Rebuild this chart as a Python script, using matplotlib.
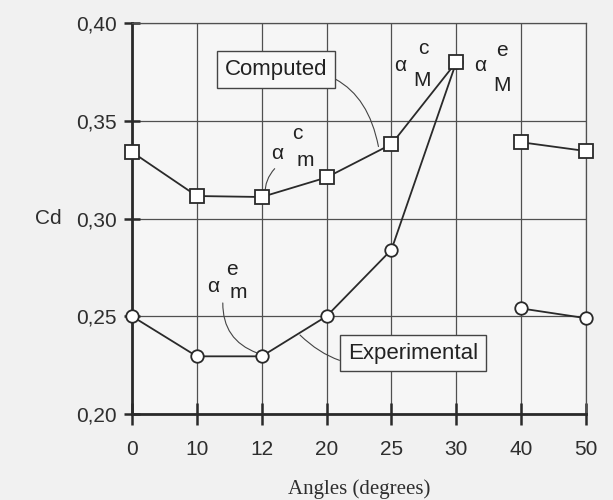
import matplotlib.pyplot as plt
import numpy as np

# Данные
angles = ["0", "10", "12", "20", "25", "30", "40", "50"]
computed = [0.334, 0.3115, 0.311, 0.321, 0.338, 0.380, 0.339, 0.3345]
experimental = [0.250, 0.2295, 0.2295, 0.250, 0.284, 0.380, 0.254, 0.249]
y_ticks = [0.20, 0.25, 0.30, 0.35, 0.40]
y_labels = ["0,20", "0,25", "0,30", "0,35", "0,40"]

plt.rcParams['font.family'] = ['Liberation Sans', 'DejaVu Sans']

fig = plt.figure(figsize=(6.13, 5.0), dpi=100, facecolor='#f1f1f1')
ax = fig.add_axes([132/613, 1 - 414/500, (586 - 132)/613, (414 - 23)/500])
ax.set_facecolor('#f6f6f6')

x = np.arange(len(angles))
ink = '#2a2a2a'
txt = '#2e2e2e'

# Разрыв между 30 и 40
for sl in (slice(0, 6), slice(6, 8)):
    ax.plot(x[sl], experimental[sl], color=ink, lw=1.3, zorder=3, clip_on=False,
            marker='o', ms=9, mfc='white', mec=ink, mew=1.3)
    ax.plot(x[sl], computed[sl], color=ink, lw=1.3, zorder=4, clip_on=False,
            marker='s', ms=10, mfc='white', mec=ink, mew=1.3)

ax.set_xlim(0, 7)
ax.set_ylim(0.20, 0.40)
ax.set_xticks(x)
ax.set_xticklabels(angles, fontsize=15, color=txt)
ax.set_yticks(y_ticks)
ax.set_yticklabels(y_labels, fontsize=15, color=txt)
ax.tick_params(axis='both', direction='inout', width=1.8, color=ink)
ax.tick_params(axis='x', length=16, pad=11)
ax.tick_params(axis='y', length=12, pad=5)

ax.grid(True, color='#505050', lw=0.9)
ax.set_axisbelow(True)
for side in ('top', 'right'):
    ax.spines[side].set_color('#505050')
    ax.spines[side].set_linewidth(0.9)
for side in ('left', 'bottom'):
    ax.spines[side].set_color(ink)
    ax.spines[side].set_linewidth(2.0)

ax.set_xlabel("Angles (degrees)", fontsize=15, family='Liberation Serif',
              color=txt, labelpad=14)
fig.text(35/613, 1 - 218/500, "Cd", fontsize=15, color=txt, va='center')

box = dict(boxstyle='square,pad=0.35', fc='#f8f8f8', ec='#444444', lw=1.0)
lead = dict(arrowstyle='-', color='#444444', lw=0.8, shrinkA=0, shrinkB=0)

# Подписи-выноски
ax.annotate("Computed", xy=(3.8, 0.3368), xytext=(2.22, 0.3762),
            fontsize=16, color='#222222', ha='center', va='center', bbox=box,
            arrowprops=dict(lead, connectionstyle='arc3,rad=-0.45'))
ax.annotate("Experimental", xy=(2.59, 0.2404), xytext=(4.33, 0.2312),
            fontsize=16, color='#222222', ha='center', va='center', bbox=box,
            arrowprops=dict(lead, connectionstyle='arc3,rad=-0.35'))

ax.annotate("", xy=(2.05, 0.3125), xytext=(2.2, 0.3255),
            arrowprops=dict(lead, connectionstyle='arc3,rad=0.2'))
ax.annotate("", xy=(1.93, 0.2312), xytext=(1.4, 0.2568),
            arrowprops=dict(lead, connectionstyle='arc3,rad=0.35'))


def alpha_label(px, py, sup, sub, sup_off, sub_off):
    # буква альфа с верхним и нижним индексом (смещения в пикселях)
    ax.text(px, py, "α", fontsize=15, color='#222222', ha='center', va='center')
    ax.annotate(sup, xy=(px, py), xytext=(sup_off[0]*0.72, -sup_off[1]*0.72),
                textcoords='offset points', fontsize=15, color='#222222',
                ha='center', va='center')
    ax.annotate(sub, xy=(px, py), xytext=(sub_off[0]*0.72, -sub_off[1]*0.72),
                textcoords='offset points', fontsize=15, color='#222222',
                ha='center', va='center')


alpha_label(2.236, 0.3335, "c", "m", (20, -20), (28, 7))
alpha_label(4.13, 0.3785, "c", "M", (23, -17), (22, 15))
alpha_label(5.365, 0.3785, "e", "M", (22, -15), (22, 20))
alpha_label(1.249, 0.265, "e", "m", (19, -17), (25, 6))

fig.savefig("out.png", dpi=100, facecolor=fig.get_facecolor())
